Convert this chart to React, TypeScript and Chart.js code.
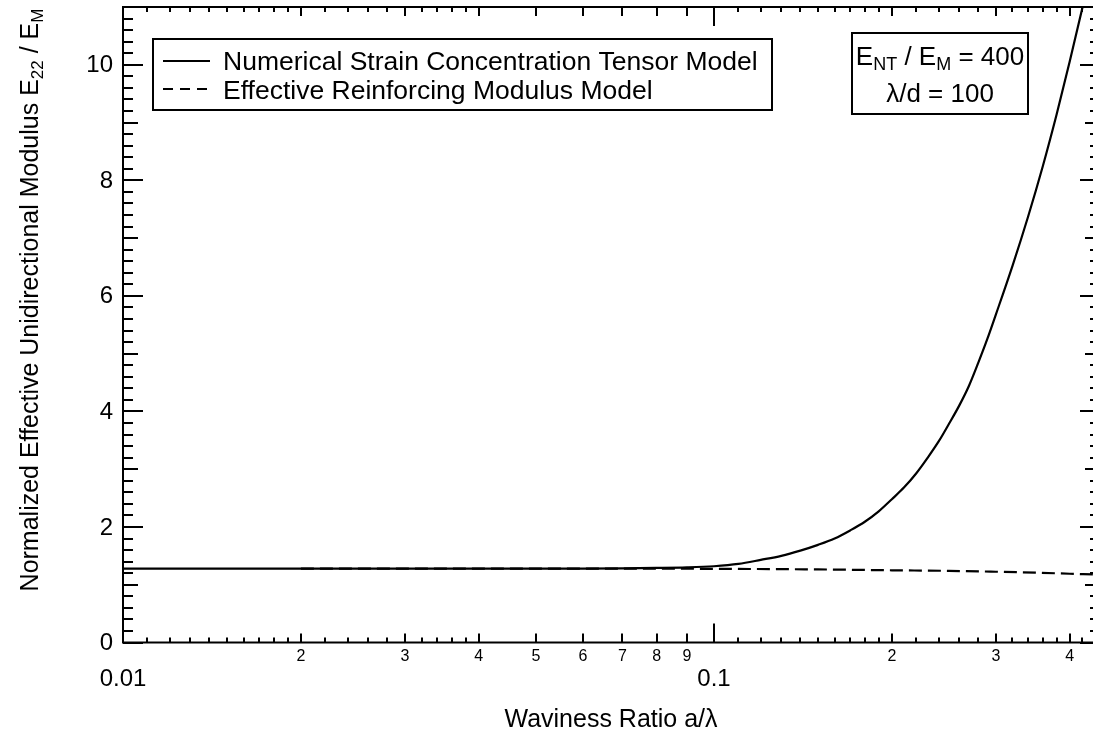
import React, { useEffect, useRef } from "react";
import { Chart, registerables } from "chart.js";

Chart.register(...registerables);

const FONT = '"Liberation Sans", Arial, Helvetica, sans-serif';

// ---- data ----
const solidX = [0.01, 0.02, 0.03, 0.04, 0.05, 0.06, 0.07, 0.08, 0.09, 0.1, 0.11, 0.12, 0.13, 0.14, 0.15, 0.16, 0.17, 0.18, 0.19, 0.2, 0.21, 0.22, 0.23, 0.24, 0.25, 0.26, 0.27, 0.28, 0.29, 0.3, 0.32, 0.34, 0.36, 0.38, 0.4, 0.42, 0.43];
const solidY = [1.28, 1.28, 1.28, 1.28, 1.28, 1.28, 1.283, 1.29, 1.3, 1.32, 1.36, 1.43, 1.5, 1.59, 1.69, 1.8, 1.94, 2.09, 2.27, 2.48, 2.69, 2.93, 3.2, 3.48, 3.79, 4.1, 4.44, 4.84, 5.25, 5.68, 6.52, 7.37, 8.24, 9.14, 10.06, 10.98, 11.45];

const dashX = [0.02, 0.05, 0.1, 0.15, 0.2, 0.25, 0.3, 0.35, 0.4, 0.45];
const dashY = [1.28, 1.28, 1.275, 1.265, 1.25, 1.24, 1.225, 1.21, 1.19, 1.175];

const seriesNames = ["Numerical Strain Concentration Tensor Model", "Effective Reinforcing Modulus Model"];

// ---- ticks ----
const yLabelValues = [0, 2, 4, 6, 8, 10];
const yLabels = ["0", "2", "4", "6", "8", "10"];
const xDecadeValues = [0.01, 0.1];
const xDecadeLabels = ["0.01", "0.1"];
const xDigitValues = [0.02, 0.03, 0.04, 0.05, 0.06, 0.07, 0.08, 0.09, 0.2, 0.3, 0.4];
const xDigitLabels = ["2", "3", "4", "5", "6", "7", "8", "9", "2", "3", "4"];

const X_MIN = 0.01;
const X_MAX = 0.45;
const Y_MIN = 0;
const Y_MAX = 11;

type Part = { t: string; sub?: boolean };

function drawRich(
  ctx: CanvasRenderingContext2D,
  parts: Part[],
  x: number,
  y: number,
  align: "left" | "center" | "right",
  size: number,
  subSize: number,
  subDrop: number
) {
  const widths = parts.map((p) => {
    ctx.font = `${p.sub ? subSize : size}px ${FONT}`;
    return ctx.measureText(p.t).width;
  });
  const total = widths.reduce((a, b) => a + b, 0);
  let cx = align === "center" ? x - total / 2 : align === "right" ? x - total : x;
  ctx.textAlign = "left";
  ctx.textBaseline = "alphabetic";
  parts.forEach((p, i) => {
    ctx.font = `${p.sub ? subSize : size}px ${FONT}`;
    ctx.fillText(p.t, cx, y + (p.sub ? subDrop : 0));
    cx += widths[i];
  });
}

function minorXTicks(): number[] {
  const out: number[] = [];
  for (const dec of [0.01, 0.1]) {
    for (let k = 11; k <= 19; k++) out.push((dec * k) / 10);
    for (let k = 22; k <= 38; k += 2) if (k !== 30) out.push((dec * k) / 10);
  }
  out.push(0.42, 0.44);
  return out.filter((v) => v <= X_MAX);
}

const framePlugin = {
  id: "frameTicks",
  afterDraw(chart: any) {
    const { ctx, chartArea } = chart;
    const { left, right, top, bottom } = chartArea;
    const xs = chart.scales.x;
    const ys = chart.scales.y;
    ctx.save();
    ctx.strokeStyle = "#000";
    ctx.fillStyle = "#000";
    ctx.lineWidth = 2;
    ctx.lineCap = "butt";
    ctx.strokeRect(left, top, right - left, bottom - top);

    const line = (x1: number, y1: number, x2: number, y2: number) => {
      ctx.beginPath();
      ctx.moveTo(x1, y1);
      ctx.lineTo(x2, y2);
      ctx.stroke();
    };

    const xt = (v: number, L: number) => {
      const px = Math.round(xs.getPixelForValue(v));
      line(px, bottom, px, bottom - L);
      line(px, top, px, top + L);
    };
    xDecadeValues.forEach((v) => xt(v, 19));
    xDigitValues.forEach((v) => xt(v, 9));
    minorXTicks().forEach((v) => xt(v, 5));

    const yt = (v: number, L: number) => {
      const py = Math.round(ys.getPixelForValue(v));
      line(left, py, left + L, py);
      line(right, py, right - L, py);
    };
    for (let i = 0; i <= 55; i++) {
      const v = i / 5;
      if (v > Y_MAX) break;
      if (i % 10 === 0) yt(v, 20);
      else if (i % 5 === 0) yt(v, 15);
      else yt(v, 10);
    }

    ctx.font = `24px ${FONT}`;
    ctx.textAlign = "right";
    ctx.textBaseline = "middle";
    yLabelValues.forEach((v, i) => {
      ctx.fillText(yLabels[i], 113, ys.getPixelForValue(v) + 1);
    });

    ctx.textAlign = "center";
    ctx.textBaseline = "middle";
    ctx.font = `16px ${FONT}`;
    xDigitValues.forEach((v, i) => {
      ctx.fillText(xDigitLabels[i], xs.getPixelForValue(v), 657);
    });
    ctx.font = `24px ${FONT}`;
    xDecadeValues.forEach((v, i) => {
      ctx.fillText(xDecadeLabels[i], xs.getPixelForValue(v), 679);
    });

    ctx.textBaseline = "alphabetic";
    ctx.font = `25px ${FONT}`;
    ctx.fillText("Waviness Ratio a/\u03bb", 611, 727);

    ctx.save();
    ctx.translate(38, 300);
    ctx.rotate(-Math.PI / 2);
    drawRich(
      ctx,
      [
        { t: "Normalized Effective Unidirectional Modulus E" },
        { t: "22", sub: true },
        { t: " / E" },
        { t: "M", sub: true },
      ],
      0,
      0,
      "center",
      25,
      17,
      5
    );
    ctx.restore();

    ctx.lineWidth = 2;
    ctx.strokeRect(153, 39, 772 - 153, 110 - 39);
    line(163, 61, 210, 61);
    ctx.setLineDash([10, 7]);
    line(163, 89, 210, 89);
    ctx.setLineDash([]);
    ctx.font = `26.5px ${FONT}`;
    ctx.textAlign = "left";
    ctx.textBaseline = "alphabetic";
    ctx.fillText(seriesNames[0], 223, 70);
    ctx.fillText(seriesNames[1], 223, 99);

    ctx.strokeRect(852, 33, 1028 - 852, 114 - 33);
    drawRich(
      ctx,
      [
        { t: "E" },
        { t: "NT", sub: true },
        { t: " / E" },
        { t: "M", sub: true },
        { t: " = 400" },
      ],
      940,
      65,
      "center",
      26,
      18,
      5
    );
    drawRich(ctx, [{ t: "\u03bb/d = 100" }], 940, 102, "center", 26, 18, 5);

    ctx.restore();
  },
};

export default function App() {
  const ref = useRef<HTMLCanvasElement | null>(null);
  useEffect(() => {
    const canvas = ref.current;
    if (!canvas) return;
    const chart = new Chart(canvas, {
      type: "line",
      data: {
        datasets: [
          {
            label: seriesNames[0],
            data: solidX.map((x, i) => ({ x, y: solidY[i] })),
            borderColor: "#000",
            borderWidth: 2.2,
            pointRadius: 0,
            fill: false,
            cubicInterpolationMode: "monotone",
          },
          {
            label: seriesNames[1],
            data: dashX.map((x, i) => ({ x, y: dashY[i] })),
            borderColor: "#000",
            borderWidth: 2.2,
            borderDash: [13, 6],
            pointRadius: 0,
            fill: false,
            cubicInterpolationMode: "monotone",
          },
        ],
      },
      options: {
        animation: false,
        responsive: false,
        devicePixelRatio: 1,
        layout: { padding: { left: 123, right: 1, top: 7, bottom: 99.5 } },
        plugins: { legend: { display: false }, tooltip: { enabled: false } },
        scales: {
          x: { type: "logarithmic", min: X_MIN, max: X_MAX, display: false },
          y: { type: "linear", min: Y_MIN, max: Y_MAX, display: false },
        },
      },
      plugins: [framePlugin],
    });
    return () => chart.destroy();
  }, []);
  return (
    <div
      style={{
        position: "fixed",
        left: 0,
        top: 0,
        width: 1093,
        height: 742,
        overflow: "hidden",
        background: "#fff",
      }}
    >
      <canvas ref={ref} width={1101} height={742} style={{ width: 1101, height: 742, display: "block" }} />
    </div>
  );
}
